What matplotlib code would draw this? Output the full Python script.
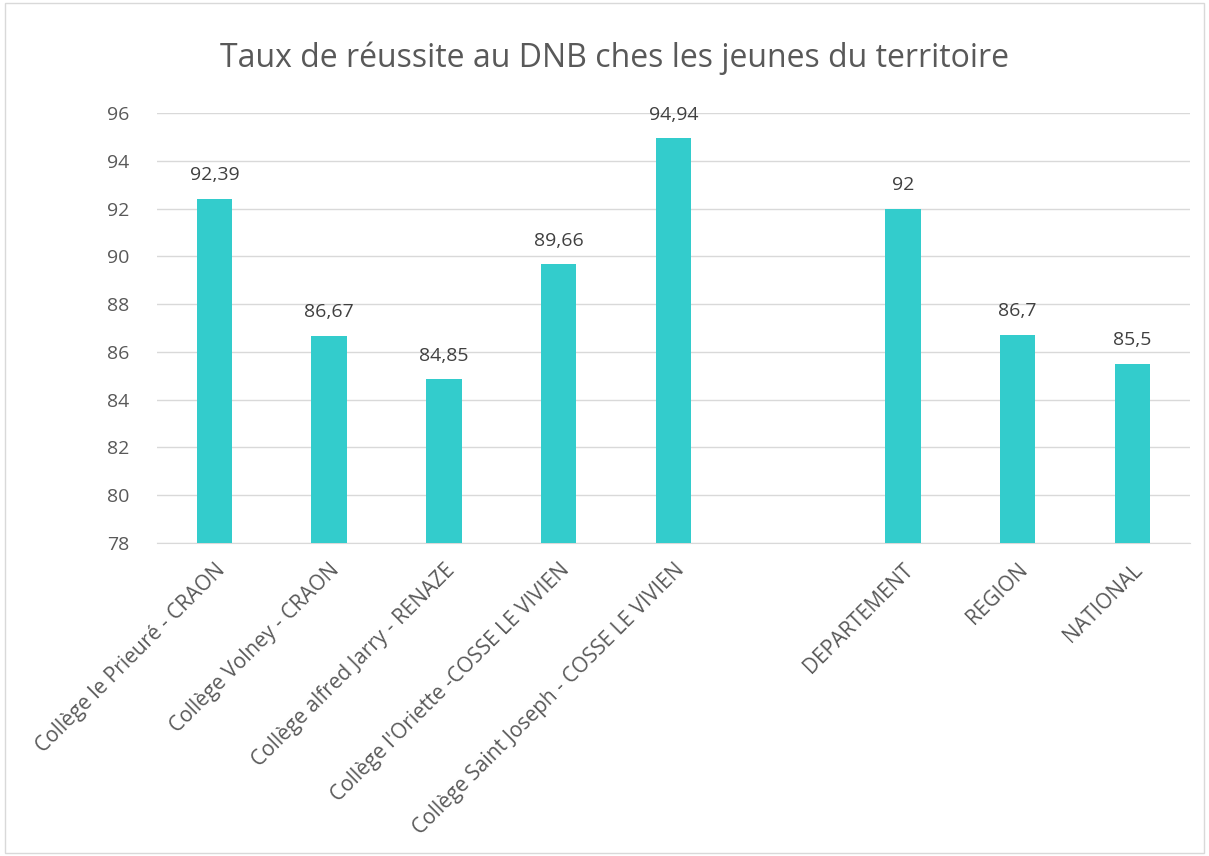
import numpy as np
import matplotlib.pyplot as plt
from matplotlib.patches import Rectangle

plt.rcParams['font.family'] = ['Open Sans', 'DejaVu Sans']

# données (un emplacement vide sépare les collèges des références)
etablissements = ["Collège le Prieuré - CRAON", "Collège Volney - CRAON",
                  "Collège alfred Jarry - RENAZE", "Collège l'Oriette -COSSE LE VIVIEN",
                  "Collège Saint Joseph - COSSE LE VIVIEN", "",
                  "DEPARTEMENT", "REGION", "NATIONAL"]
taux = [92.39, 86.67, 84.85, 89.66, 94.94, np.nan, 92, 86.7, 85.5]
etiquettes = ["92,39", "86,67", "84,85", "89,66", "94,94", "", "92", "86,7", "85,5"]
graduations = [78, 80, 82, 84, 86, 88, 90, 92, 94, 96]

fig = plt.figure(figsize=(12.09, 8.56), dpi=100)
fig.patches.append(Rectangle((0.004, 0.004), 0.992, 0.992, transform=fig.transFigure,
                             fill=False, edgecolor='#D9D9D9', linewidth=1))
ax = fig.add_axes([0.130, 0.3657, 0.854, 0.5023])

x = np.arange(len(etablissements))
ax.bar(x, taux, width=0.31, color='#33CCCC', zorder=3, bottom=0)

for xi, v, lab in zip(x, taux, etiquettes):
    if lab:
        ax.text(xi, v + 0.62, lab, ha='center', va='bottom', fontsize=14, color='#404040')

ax.set_ylim(78, 96)
ax.set_xlim(-0.5, len(etablissements) - 0.5)
ax.set_yticks(graduations)
ax.yaxis.grid(True, color='#D9D9D9', linewidth=1, zorder=0)
for s in ['top', 'right', 'left']:
    ax.spines[s].set_visible(False)
ax.spines['bottom'].set_color('#D9D9D9')
ax.tick_params(axis='both', length=0, labelsize=14, labelcolor='#595959')
ax.tick_params(axis='y', pad=20)
ax.set_xticks(x)
ax.set_xticklabels(etablissements, rotation=45, ha='right', va='top',
                   rotation_mode='anchor', fontsize=15)
ax.tick_params(axis='x', pad=12)

fig.text(0.508, 0.932, "Taux de réussite au DNB ches les jeunes du territoire",
         ha='center', va='center', fontsize=23, color='#595959')

fig.savefig('out.png', dpi=100)
